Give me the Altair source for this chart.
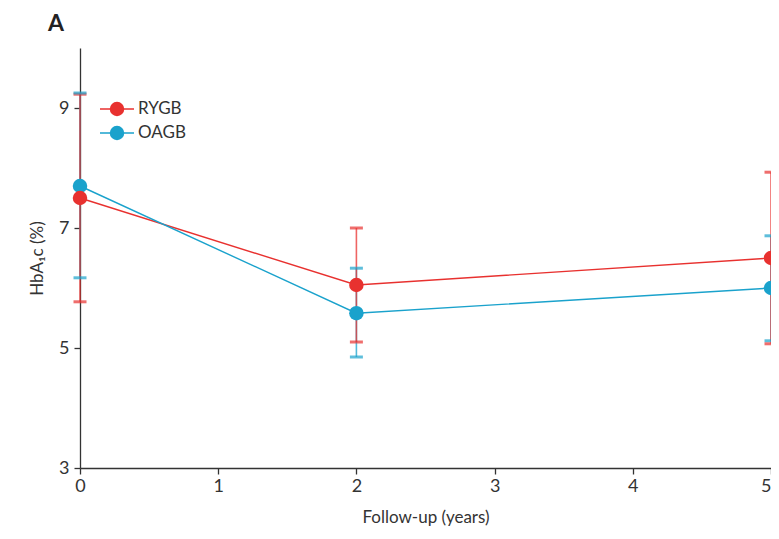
import altair as alt
import pandas as pd

# Data
years = [0, 2, 5]
rygb_mean = [7.5, 6.05, 6.5]
rygb_lo = [5.77, 5.1, 5.07]
rygb_hi = [9.23, 7.0, 7.93]
oagb_mean = [7.7, 5.58, 6.0]
oagb_lo = [6.17, 4.85, 5.12]
oagb_hi = [9.25, 6.33, 6.87]

groups = ["RYGB", "OAGB"]
colors = ["#e8312f", "#1aa2cc"]
x_ticks = [0, 1, 2, 3, 4, 5]
y_ticks = [3, 5, 7, 9]

rows = []
for g, m, lo, hi in [("RYGB", rygb_mean, rygb_lo, rygb_hi), ("OAGB", oagb_mean, oagb_lo, oagb_hi)]:
    for x, a, b, c in zip(years, m, lo, hi):
        rows.append({"group": g, "year": x, "mean": a, "lo": b, "hi": c})
df = pd.DataFrame(rows)
df["order"] = df["group"].map({"RYGB": 1, "OAGB": 0})
leg_df = pd.DataFrame({"group": groups})

FONT = "Lato"
TXT = "#333333"

xscale = alt.Scale(domain=[0, 5], nice=False, zero=False)
yscale = alt.Scale(domain=[3, 10], nice=False, zero=False)
cscale = alt.Scale(domain=groups, range=colors)
col = alt.Color("group:N", scale=cscale, legend=None)

x = alt.X("year:Q", scale=xscale,
          axis=alt.Axis(values=x_ticks, title="Follow-up (years)", format="d",
                        labelFlush=False,
                        labelAlign={"condition": {"test": "datum.value == 5", "value": "right"},
                                    "value": "center"}))
y = alt.Y("mean:Q", scale=yscale,
          axis=alt.Axis(values=y_ticks, title="HbA₁c (%)", format="d",
                        labelFlush=False))

base = alt.Chart(df)

err_lines = base.mark_rule(strokeWidth=1.6, opacity=0.75).encode(
    x=x,
    y=alt.Y("lo:Q", scale=yscale),
    y2="hi:Q",
    color=col,
    order=alt.Order("order:Q", sort="ascending"),
)
caps_lo = base.mark_tick(thickness=3, size=13, orient="horizontal").encode(
    x=x,
    y=alt.Y("lo:Q", scale=yscale),
    color=col,
    order=alt.Order("order:Q", sort="ascending"),
)
caps_hi = base.mark_tick(thickness=3, size=13, orient="horizontal").encode(
    x=x,
    y=alt.Y("hi:Q", scale=yscale),
    color=col,
    order=alt.Order("order:Q", sort="descending"),
)
lines = base.mark_line(strokeWidth=1.4).encode(
    x=x, y=y, color=col, detail="group:N",
)
points = base.mark_circle(size=210, opacity=1).encode(
    x=x, y=y, color=col,
    order=alt.Order("order:Q"),
)

# manual legend (rows placed by its own point scale)
ly = alt.Y("group:N", scale=alt.Scale(type="point", domain=groups, range=[61, 85], padding=0),
           axis=None)
lbase = alt.Chart(leg_df)
leg_line = lbase.mark_rule(strokeWidth=1.4).encode(
    x=alt.value(20), x2=alt.value(54), y=ly, color=col)
leg_pt = lbase.mark_circle(size=210, opacity=1).encode(
    x=alt.value(37), y=ly, color=col)
leg_txt = lbase.mark_text(align="left", baseline="middle", dx=0, font=FONT,
                          fontSize=17, color=TXT).encode(
    x=alt.value(58), y=ly, text="group:N")

main = alt.layer(err_lines, caps_lo, caps_hi, lines, points)
legend = alt.layer(leg_line, leg_pt, leg_txt)

chart = alt.layer(main, legend).resolve_scale(y="independent").properties(
    width=691, height=420,
    autosize=alt.AutoSizeParams(type="none"),
    padding={"left": 72, "top": 40, "right": 0, "bottom": 63},
    title=alt.Title("A", anchor="start", frame="group", dx=-32, offset=12, fontSize=23,
                    font=FONT, fontWeight="bold", color="#222222"),
).configure_view(stroke=None).configure_axis(
    grid=False, domainColor=TXT, tickColor=TXT, domainWidth=1.3,
    tickWidth=1.3, tickSize=6, labelFont=FONT, labelFontSize=18,
    labelColor=TXT, titleFont=FONT, titleFontSize=17, titleFontWeight="normal",
    titleColor=TXT,
).configure_axisY(labelPadding=5, titlePadding=12).configure_axisX(
    labelPadding=3, titlePadding=14
)

chart.save("out.html", embed_options={"renderer": "svg", "actions": False})
